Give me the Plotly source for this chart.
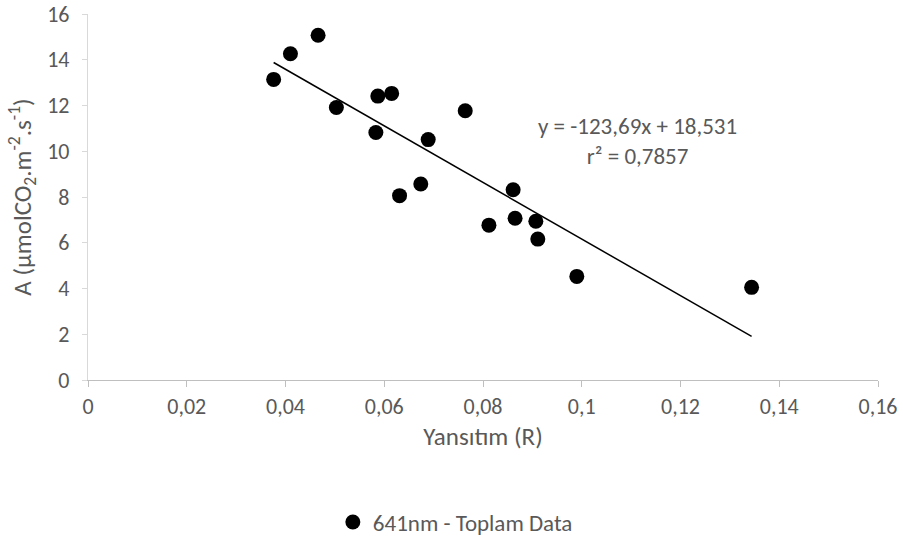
import plotly.graph_objects as go

# Reflectance (R) and net assimilation A for the 641 nm band
reflectance = [0.0376, 0.0410, 0.0466, 0.0503, 0.0587, 0.0615, 0.0583, 0.0689, 0.0764,
               0.0674, 0.0631, 0.0861, 0.0812, 0.0865, 0.0907, 0.0911, 0.0990, 0.1344]
assimilation = [13.14, 14.26, 15.07, 11.91, 12.41, 12.53, 10.82, 10.51, 11.77,
                8.57, 8.06, 8.32, 6.77, 7.07, 6.94, 6.16, 4.53, 4.05]

# Linear trend reported on the chart
slope = -123.69
intercept = 18.531
r_squared = 0.7857

series_name = "641nm - Toplam Data"
x_title = "Yansıtım (R)"
y_title = "A (µmolCO<sub>2</sub>.m<sup>-2</sup>.s<sup>-1</sup>)"

FONT = "Carlito, Calibri, Lato, sans-serif"
GREY = "#595959"

x_fit = [min(reflectance), max(reflectance)]
y_fit = [slope * x + intercept for x in x_fit]

fig = go.Figure()
fig.add_trace(go.Scatter(
    x=reflectance, y=assimilation, mode="markers", name=series_name,
    marker=dict(color="black", size=15, line=dict(width=0)),
))
fig.add_trace(go.Scatter(
    x=x_fit, y=y_fit, mode="lines", showlegend=False,
    line=dict(color="black", width=1.5), hoverinfo="skip",
))

eq_text = (f"y = {slope:.2f}x + {intercept:.3f}".replace(".", ",")
           + "<br>" + f"r² = {r_squared:.4f}".replace(".", ","))
fig.add_annotation(
    x=0.1112, y=10.45, xref="x", yref="y", text=eq_text, showarrow=False,
    font=dict(family=FONT, size=23, color=GREY), align="center",
)

fig.update_layout(
    width=903, height=538,
    margin=dict(l=88, r=25, t=14, b=158, autoexpand=False),
    paper_bgcolor="white", plot_bgcolor="white",
    separators=",.",
    font=dict(family=FONT, color=GREY, size=22),
    showlegend=True,
    legend=dict(orientation="h", x=0.465, xanchor="center", y=-0.388, yanchor="middle",
                font=dict(family=FONT, size=23, color=GREY), itemwidth=30),
    xaxis=dict(
        range=[0, 0.16], dtick=0.02, tick0=0, showgrid=False, zeroline=False,
        showline=True, linecolor="#bfbfbf", linewidth=1.3,
        ticks="outside", ticklen=6, tickcolor="#bfbfbf", tickwidth=1.3,
        tickfont=dict(family=FONT, size=22, color=GREY),
        title=dict(text=x_title, font=dict(family=FONT, size=25, color=GREY), standoff=8),
    ),
    yaxis=dict(
        range=[0, 16], dtick=2, tick0=0, showgrid=False, zeroline=False,
        showline=True, linecolor="#d9d9d9", linewidth=1.3,
        ticks="outside", ticklen=5, tickcolor="#d9d9d9", tickwidth=1.3,
        ticklabelstandoff=8,
        tickfont=dict(family=FONT, size=22, color=GREY),
        title=dict(text=y_title, font=dict(family=FONT, size=25, color=GREY), standoff=8),
    ),
)

fig.write_html("out.html")
